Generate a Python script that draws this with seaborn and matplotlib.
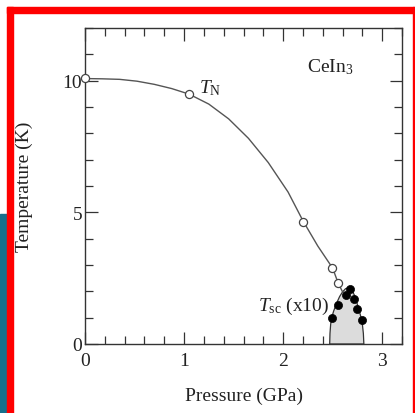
import numpy as np
import pandas as pd
import seaborn as sns
import matplotlib.pyplot as plt
from matplotlib.patches import Rectangle
from matplotlib.ticker import MultipleLocator

sns.set_style("ticks")
plt.rcParams['font.family'] = ['Liberation Serif', 'DejaVu Serif']
plt.rcParams['mathtext.fontset'] = 'custom'
plt.rcParams['mathtext.rm'] = 'Liberation Serif'
plt.rcParams['mathtext.it'] = 'Liberation Serif:italic'

# T_N measured points (open circles)
tn_p = [0.0, 1.05, 2.20, 2.49, 2.555]
tn_t = [10.09, 9.49, 4.65, 2.89, 2.30]

# guide line through T_N
curve_p = [0.0, 0.175, 0.35, 0.525, 0.7, 0.875, 1.05, 1.25, 1.45, 1.65, 1.85, 2.05, 2.2, 2.35, 2.5, 2.555, 2.6]
curve_t = [10.08, 10.07, 10.05, 9.98, 9.86, 9.70, 9.49, 9.11, 8.55, 7.81, 6.89, 5.77, 4.68, 3.72, 2.88, 2.32, 1.98]

# T_sc (x10) points (filled circles)
sc_p = [2.49, 2.555, 2.63, 2.68, 2.72, 2.75, 2.80]
sc_t = [0.99, 1.49, 1.87, 2.09, 1.72, 1.33, 0.92]

# superconducting dome outline
dome_p = [2.47, 2.473, 2.48, 2.49, 2.51, 2.54, 2.57, 2.60, 2.63, 2.66, 2.69, 2.72, 2.75, 2.78, 2.80, 2.81, 2.815]
dome_t = [0.0, 0.4, 0.75, 1.0, 1.25, 1.55, 1.8, 1.98, 2.1, 2.14, 2.08, 1.85, 1.5, 1.1, 0.75, 0.4, 0.0]

W, H = 415, 414
fig = plt.figure(figsize=(W / 100, H / 100), dpi=100)

# screenshot frame
fig.patches.append(Rectangle((0, 0), 6.5 / W, (H - 215) / H, transform=fig.transFigure,
                             color='#16708c', zorder=0))
fig.patches.append(Rectangle((7 / W, 0), 5.5 / W, (H - 8) / H, transform=fig.transFigure,
                             color='#ff0000', zorder=1))
fig.patches.append(Rectangle((7 / W, (H - 14) / H), (W - 7) / W, 6 / H, transform=fig.transFigure,
                             color='#ff0000', zorder=1))
fig.patches.append(Rectangle((412.5 / W, 0), 1.5 / W, (H - 8) / H, transform=fig.transFigure,
                             color='#ff0000', zorder=1))

ax = fig.add_axes([85 / W, (H - 345) / H, 317 / W, 316 / H])

ax.fill(dome_p, dome_t, facecolor='#dcdcdc', edgecolor='#333333', linewidth=0.9, zorder=1)
sns.lineplot(x=curve_p, y=curve_t, sort=False, color='#555555', linewidth=1.0, ax=ax, zorder=2)
sns.scatterplot(x=tn_p, y=tn_t, marker='o', s=34, facecolor='white', edgecolor='#444444',
                linewidth=0.9, ax=ax, zorder=3, clip_on=False)
sns.scatterplot(x=sc_p, y=sc_t, marker='o', s=34, color='black', edgecolor='black',
                linewidth=0.5, ax=ax, zorder=4)

ax.set_xlim(0, 3.2)
ax.set_ylim(0, 12)
ax.xaxis.set_major_locator(MultipleLocator(1))
ax.xaxis.set_minor_locator(MultipleLocator(0.2))
ax.yaxis.set_major_locator(MultipleLocator(5))
ax.yaxis.set_minor_locator(MultipleLocator(1))
ax.tick_params(which='both', direction='in', top=True, right=True, colors='#333333',
               labelcolor='#222222', labelsize=14)
ax.tick_params(which='major', length=9, width=0.9)
ax.tick_params(which='minor', length=5.5, width=0.9)
ax.tick_params(axis='x', pad=6)
ax.tick_params(axis='y', pad=2)
for s in ax.spines.values():
    s.set_color('#333333')
    s.set_linewidth(1.0)

ax.set_xlabel('Pressure (GPa)', fontsize=14, color='#222222')
ax.set_ylabel('Temperature (K)', fontsize=14, color='#222222')
ax.xaxis.set_label_coords(0.5, -0.135)
ax.yaxis.set_label_coords(-0.165, 0.5)

ax.text(2.24, 10.56, r'CeIn$_3$', fontsize=14, va='center', ha='left', color='#222222')
ax.text(1.15, 9.76, r'$T_{\rm N}$', fontsize=14, va='center', ha='left', color='#222222')
ax.text(2.46, 1.45, r'$T_{\rm sc}$ (x10)', fontsize=14, va='center', ha='right', color='#222222')

fig.savefig('out.png', dpi=100, facecolor='white')
